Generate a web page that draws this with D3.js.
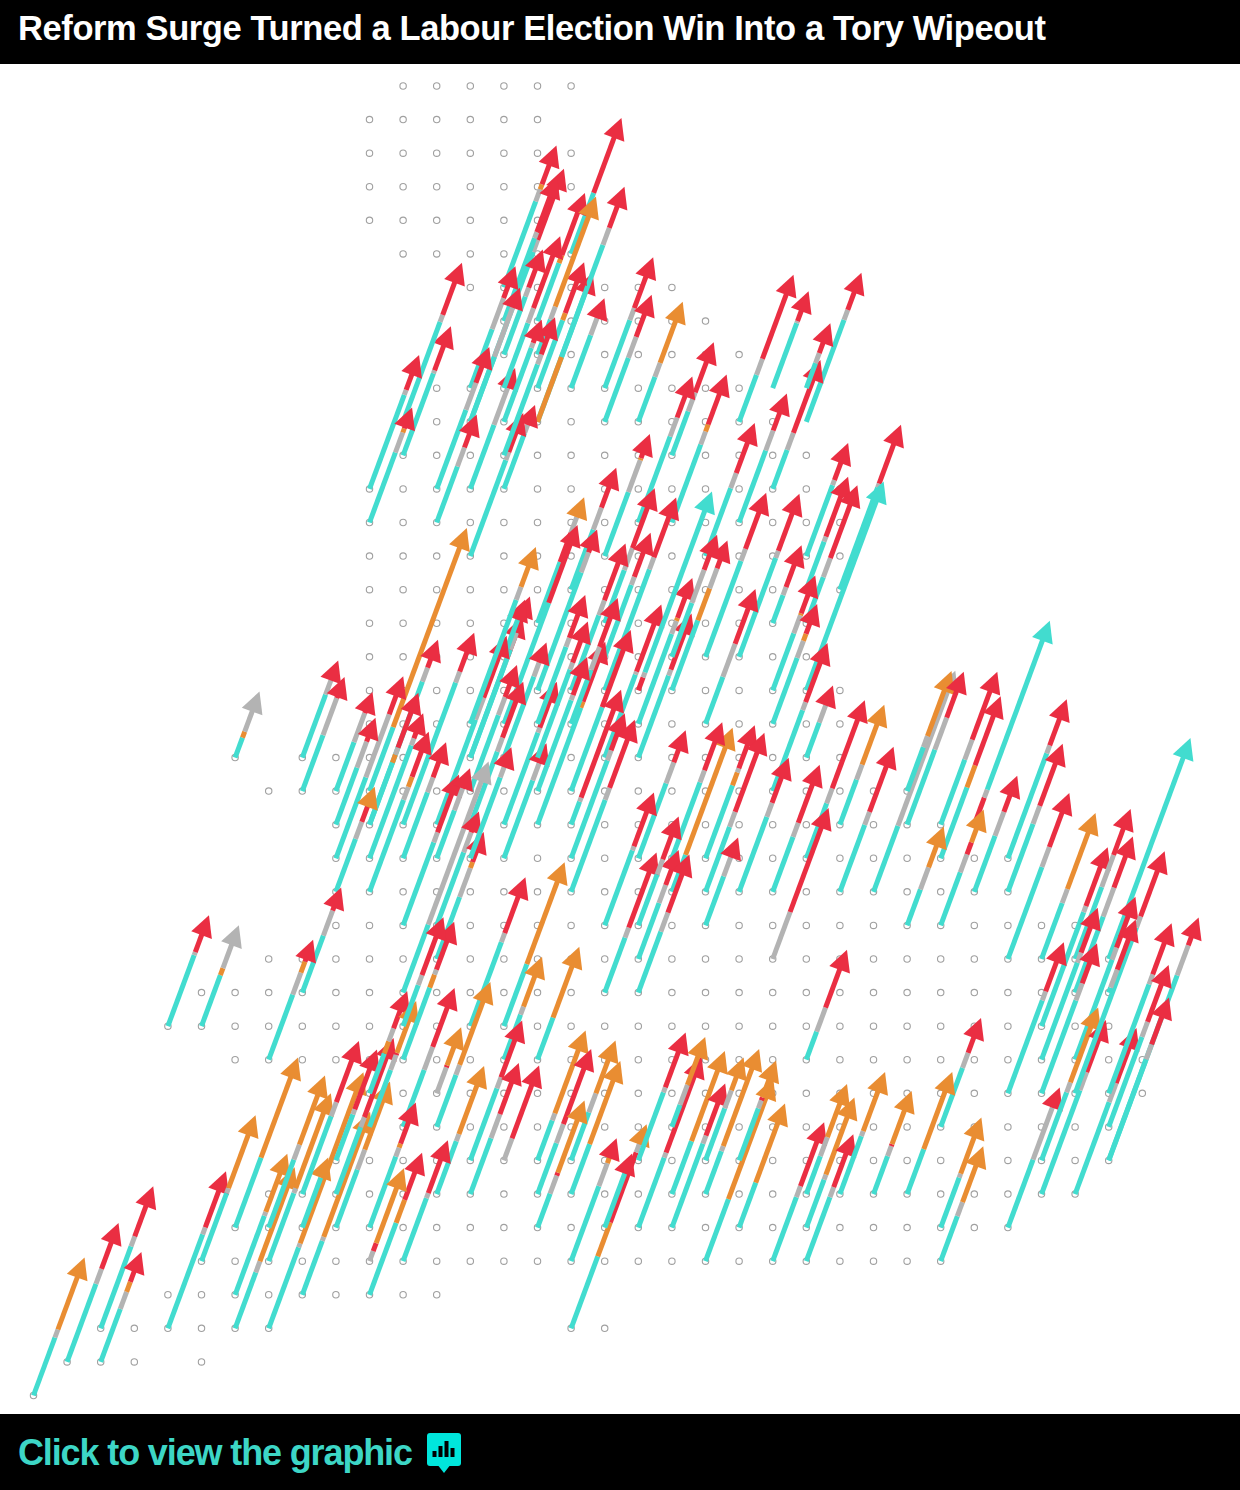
<!DOCTYPE html>
<html>
<head>
<meta charset="utf-8">
<script src="https://cdn.jsdelivr.net/npm/d3@7"></script>
<style>
  html, body { margin: 0; padding: 0; background: #fff; }
  svg { display: block; }
</style>
</head>
<body>
<div id="chart"></div>
<script>
const width = 1240;
const height = 1490;

const title = "Reform Surge Turned a Labour Election Win Into a Tory Wipeout";
const footer = "Click to view the graphic";

// hexagon grid: [row, first column, last column]
const gridRuns = [
  [0, 11, 16], [1, 10, 15], [2, 10, 16], [3, 10, 16], [4, 10, 15], [5, 11, 16],
  [6, 13, 19], [7, 14, 20], [8, 14, 21], [9, 12, 21], [10, 11, 22], [11, 11, 23],
  [12, 10, 24], [13, 10, 24], [14, 10, 24], [15, 10, 24], [16, 10, 23], [17, 10, 23],
  [18, 10, 24], [19, 10, 24], [20, 6, 6], [20, 8, 24], [21, 7, 26], [22, 9, 27],
  [23, 9, 29], [24, 9, 29], [25, 9, 31], [26, 7, 32], [27, 5, 32], [28, 4, 32],
  [29, 6, 33], [30, 10, 33], [31, 10, 32], [32, 9, 32], [33, 7, 31], [34, 6, 29],
  [35, 5, 27], [36, 4, 12], [37, 2, 7], [37, 16, 17], [38, 1, 3], [38, 5, 5], [39, 0, 0]
];

// seats: [column, row, party order, points per party]
// t reform, g other, o lib dem, r labour
const scotlandSeats = [
  [13, 10, "tgr", [170, 12, 71]], [16, 5, "tr", [61, 75]], [15, 10, "tgr", [125, 8, 16]],
  [15, 10, "otgr", [65, 112, 17, 41]], [14, 6, "tgor", [86, 12, 5, 39]], [14, 7, "tgr", [83, 6, 55]],
  [15, 7, "tor", [58, 8, 62]], [14, 8, "tgr", [58, 9, 38]], [13, 9, "tgr", [59, 31, 32]],
  [13, 10, "tgor", [65, 50, 2, 17]], [16, 9, "tgr", [53, 17, 20]], [17, 9, "tgr", [68, 12, 51]],
  [17, 10, "tgr", [64, 21, 42]], [18, 10, "tgo", [45, 14, 61]], [21, 10, "tgr", [47, 16, 84]],
  [11, 11, "tgr", [82, 3, 44]], [11, 10, "tgr", [100, 7, 52]], [10, 12, "tgr", [94, 5, 35]],
  [10, 13, "tgor", [70, 20, 4, 21]], [12, 12, "tgr", [79, 27, 36]], [12, 13, "tgr", [56, 19, 33]],
  [13, 12, "tgr", [64, 37, 20]], [14, 12, "tgr", [56, 8, 20]], [13, 14, "tgr", [96, 8, 39]],
  [15, 9, "tor", [68, 7, 51]], [15, 8, "tgo", [35, 13, 110]], [14, 11, "tgr", [91, 10, 37]],
  [14, 9, "tgr", [65, 15, 72]], [14, 10, "tgr", [74, 5, 23]], [19, 11, "tgr", [44, 19, 50]],
  [18, 13, "tgr", [86, 19, 41]], [19, 13, "tgor", [78, 13, 7, 50]], [22, 9, "tgr", [65, 2, 30]],
  [23, 10, "tgr", [102, 10, 37]], [21, 13, "tgr", [72, 20, 37]], [20, 14, "tgr", [68, 15, 50]],
  [22, 12, "tgr", [39, 17, 73]], [23, 9, "tgr", [25, 10, 30]]
];

const northSeats = [
  [24, 15, "tgr", [102, 4, 59]], [23, 18, "t", [209]], [22, 21, "tgr", [81, 8, 59]],
  [23, 14, "tgr", [71, 5, 37]], [23, 15, "tgr", [48, 5, 60]], [23, 16, "tgr", [46, 19, 73]],
  [20, 17, "tgr", [96, 12, 56]], [21, 17, "tgr", [99, 7, 57]], [20, 19, "tgr", [47, 33, 55]],
  [22, 16, "tgr", [28, 8, 42]], [22, 18, "tgor", [57, 18, 2, 38]], [22, 19, "tgor", [66, 17, 7, 30]],
  [17, 14, "tgor", [64, 32, 2, 24]], [17, 16, "tgr", [53, 22, 60]], [17, 18, "tgr", [121, 12, 60]],
  [17, 17, "tgr", [72, 8, 44]], [16, 18, "tgr", [75, 15, 57]], [17, 20, "tgr", [83, 3, 67]],
  [18, 20, "tgr", [82, 6, 56]], [18, 19, "tgor", [90, 13, 3, 40]], [18, 18, "rgt", [13, 5, 181]],
  [19, 18, "togr", [70, 32, 20, 28]], [19, 17, "tgr", [54, 33, 35]], [18, 23, "tgr", [75, 21, 32]],
  [19, 24, "to", [37, 127]], [19, 23, "tgr", [76, 12, 48]], [20, 23, "togr", [73, 13, 4, 43]],
  [20, 24, "tgr", [65, 15, 79]], [21, 24, "tgr", [75, 14, 45]], [22, 24, "tgr", [55, 14, 58]],
  [23, 20, "tgr", [35, 19, 18]], [23, 23, "tgr", [55, 15, 88]], [24, 22, "tgo", [45, 15, 60]],
  [24, 24, "tgr", [67, 13, 65]], [22, 26, "gr", [47, 104]], [17, 25, "tgr", [75, 4, 54]],
  [17, 27, "tgr", [55, 10, 75]], [18, 26, "tgr", [56, 18, 35]], [18, 27, "tgr", [61, 19, 58]],
  [18, 25, "tgr", [51, 15, 43]], [20, 25, "tgr", [49, 19, 20]]
];

const centralSeats = [
  [16, 15, "tgr", [60, 22, 40]], [15, 16, "trgo", [61, 29, 16, 20]], [14, 19, "tr", [121, 78]],
  [15, 18, "tgr", [118, 20, 23]], [16, 21, "tr", [84, 77]], [15, 22, "tor", [117, 6, 60]],
  [16, 19, "tgr", [54, 23, 49]], [16, 22, "tgr", [23, 4, 108]], [16, 23, "tgr", [98, 10, 37]],
  [16, 24, "tgr", [92, 12, 68]], [14, 20, "tgr", [81, 14, 20]], [13, 20, "tgr", [90, 10, 41]],
  [13, 20, "tgr", [108, 17, 36]], [14, 17, "tgr", [42, 5, 10]], [13, 21, "tgr", [76, 18, 32]],
  [13, 22, "tgr", [73, 14, 56]], [12, 22, "tgr", [105, 22, 62]], [14, 22, "tgr", [92, 5, 46]],
  [14, 23, "tgr", [78, 17, 20]], [15, 19, "tgr", [77, 9, 43]], [15, 20, "tgr", [88, 7, 41]],
  [15, 21, "tgr", [91, 5, 38]], [13, 19, "tgo", [124, 13, 40]], [10, 21, "to", [64, 199]],
  [10, 22, "tgr", [143, 14, 28]], [10, 22, "togr", [62, 8, 7, 55]], [11, 22, "tgr", [142, 11, 39]],
  [11, 23, "tgr", [66, 15, 35]], [10, 24, "tgor", [92, 13, 10, 45]], [10, 23, "tgr", [113, 7, 25]],
  [9, 23, "tgr", [81, 63, 38]], [9, 21, "tgr", [49, 29, 21]], [9, 22, "tgr", [57, 26, 24]],
  [9, 24, "tgro", [53, 17, 18, 17]], [6, 20, "tog", [20, 6, 40]], [8, 20, "tgr", [63, 15, 19]],
  [8, 21, "tgr", [56, 37, 21]], [8, 27, "tgr", [57, 25, 23]], [7, 29, "tgor", [65, 22, 11, 22]],
  [4, 28, "tgr", [71, 3, 37]], [5, 28, "tog", [51, 7, 43]], [11, 25, "tgr", [83, 10, 58]],
  [12, 23, "tgr", [48, 22, 20]], [11, 27, "tg", [68, 163]], [12, 25, "tgr", [73, 20, 21]],
  [12, 26, "tgor", [62, 29, 6, 30]], [13, 23, "tgr", [81, 14, 16]]
];

const eastSeats = [
  [25, 24, "tg", [66, 155]], [26, 21, "tgo", [44, 11, 65]], [26, 22, "tgr", [75, 32, 46]],
  [27, 22, "tgr", [65, 20, 68]], [27, 23, "tor", [71, 22, 69]], [28, 22, "rgt", [27, 8, 169]],
  [26, 25, "tgo", [36, 22, 41]], [27, 25, "tgro", [53, 18, 12, 33]], [28, 24, "tgr", [56, 24, 36]],
  [29, 23, "tgr", [105, 8, 46]], [29, 24, "tgr", [68, 18, 62]], [29, 26, "tgr", [92, 20, 54]],
  [32, 26, "t", [221]], [31, 29, "tgr", [100, 12, 51]], [30, 26, "tgo", [56, 14, 76]],
  [30, 28, "tgr", [114, 6, 59]], [31, 26, "tgr", [72, 32, 46]], [31, 27, "tgr", [76, 29, 51]],
  [30, 29, "tgr", [97, 10, 45]], [30, 30, "tgr", [93, 17, 40]], [29, 30, "tgr", [93, 9, 49]],
  [29, 34, "tgr", [68, 52, 20]], [30, 32, "tgo", [68, 10, 75]], [31, 33, "tgr", [92, 19, 55]],
  [30, 33, "tgr", [104, 18, 52]], [32, 32, "tgr", [185, 30, 28]], [32, 30, "tgr", [109, 10, 51]],
  [32, 31, "tgr", [90, 15, 57]], [32, 32, "tgr", [101, 15, 47]], [31, 30, "tgr", [166, 11, 65]],
  [32, 27, "tgr", [5, 18, 50]]
];

const southEastSeats = [
  [23, 29, "tgr", [28, 24, 58]], [27, 31, "tgr", [59, 15, 35]], [22, 35, "tgr", [64, 11, 64]],
  [23, 34, "tgo", [48, 5, 77]], [23, 35, "tgr", [64, 10, 53]], [23, 33, "tgo", [38, 19, 53]],
  [24, 33, "tgo", [58, 5, 59]], [25, 33, "tgro", [38, 10, 2, 53]], [26, 33, "to", [45, 77]],
  [27, 34, "tgo", [50, 4, 56]], [27, 35, "tgo", [45, 14, 56]]
];

const southSeats = [
  [13, 28, "tgr", [84, 9, 56]], [14, 28, "to", [62, 102]], [14, 29, "tgo", [45, 8, 50]],
  [15, 29, "to", [42, 71]], [12, 31, "tgo", [52, 10, 83]], [11, 31, "tgr", [57, 23, 59]],
  [12, 30, "gro", [26, 2, 38]], [13, 32, "tgr", [72, 11, 57]], [13, 33, "tgr", [56, 24, 51]],
  [14, 32, "gr", [22, 73]], [12, 33, "tgo", [53, 7, 68]], [15, 32, "tgo", [40, 7, 83]],
  [15, 33, "tgr", [51, 19, 75]], [16, 32, "tgo", [48, 19, 53]], [16, 33, "to", [50, 83]],
  [15, 34, "tgro", [34, 18, 3, 72]], [16, 35, "tgor", [75, 23, 7, 18]],
  [16, 37, "torgo", [72, 34, 70, 10, 18]], [17, 34, "tr", [55, 19]], [18, 32, "tgr", [68, 5, 55]],
  [18, 34, "tgr", [70, 5, 96]], [19, 33, "to", [53, 90]], [19, 31, "tgo", [22, 20, 48]],
  [19, 34, "tgr", [84, 8, 52]], [20, 32, "tgo", [52, 18, 33]], [20, 33, "tgo", [43, 5, 97]],
  [20, 35, "to", [62, 121]], [21, 32, "tgro", [52, 8, 3, 37]], [21, 34, "to", [45, 79]]
];

const southWestSeats = [
  [0, 39, "tgo", [58, 8, 72]], [1, 38, "tgr", [78, 15, 46]], [2, 37, "tgr", [82, 10, 50]],
  [2, 38, "tgor", [53, 17, 10, 30]], [4, 37, "tgr", [94, 7, 56]], [5, 35, "tgo", [68, 5, 73]],
  [6, 34, "to", [70, 100]], [6, 36, "tgo", [79, 4, 58]], [6, 37, "tgo", [56, 11, 94]],
  [7, 34, "tgo", [68, 15, 69]], [7, 35, "tgo", [68, 5, 95]], [7, 37, "tgo", [81, 4, 171]],
  [8, 36, "tgo", [54, 4, 125]], [9, 34, "tgo", [58, 20, 68]], [8, 34, "tgo", [50, 10, 10]],
  [9, 32, "tgr", [46, 5, 60]], [8, 33, "tgr", [78, 14, 61]], [9, 33, "tgr", [67, 10, 79]],
  [10, 30, "togr", [40, 12, 13, 37]], [10, 31, "tgro", [57, 15, 2, 52]],
  [11, 29, "togr", [72, 13, 5, 48]], [11, 28, "tgr", [41, 10, 58]], [10, 34, "tgor", [71, 9, 4, 41]],
  [10, 36, "tor", [72, 23, 47]], [11, 35, "tgr", [63, 5, 53]], [10, 35, "gro", [10, 8, 75]]
];

const partyColor = d3.scaleOrdinal()
  .domain(["t", "g", "o", "r"])
  .range(["#42dccf", "#b3b3b3", "#e98d32", "#ea2e42"]);

const allSeats = [scotlandSeats, northSeats, centralSeats, eastSeats, southEastSeats, southSeats, southWestSeats];

const scale_X = d3.scaleLinear().domain([0, 34]).range([33.5, 33.5 + 34 * 33.6]);
const scale_Y = d3.scaleLinear().domain([0, 39]).range([86, 1395.5]);
// one point of change runs up one pixel, leaning right
const scale_Rise = d3.scaleLinear().domain([0, 100]).range([0, 100]);
const lean = 0.37;

const svg = d3
  .select("#chart")
  .append("svg")
  .attr("width", width)
  .attr("height", height);

svg.append("rect").attr("width", width).attr("height", height).attr("fill", "#fff");

// grid dots
const dots = gridRuns.flatMap(([row, first, last]) =>
  d3.range(first, last + 1).map((col) => [col, row])
);
svg
  .append("g")
  .selectAll("circle")
  .data(dots)
  .enter()
  .append("circle")
  .attr("cx", (d) => scale_X(d[0]))
  .attr("cy", (d) => scale_Y(d[1]))
  .attr("r", 3.2)
  .attr("fill", "#fff")
  .attr("stroke", "#a0a0a0")
  .attr("stroke-width", 1.1);

// arrows
const headLength = 20;
const headHalf = 11;
const norm = Math.sqrt(1 + lean * lean);
const arrows = svg.append("g");

allSeats.flat().forEach(([col, row, order, points]) => {
  const x0 = scale_X(col);
  const y0 = scale_Y(row);
  const total = scale_Rise(d3.sum(points));
  const g = arrows.append("g");
  let rise = 0;
  points.forEach((p, i) => {
    const from = rise;
    rise += scale_Rise(p);
    const last = i === points.length - 1;
    const to = last ? total - headLength + 2 : Math.min(rise, total - 18);
    if (to <= from) return;
    g.append("line")
      .attr("x1", x0 + from * lean)
      .attr("y1", y0 - from)
      .attr("x2", x0 + to * lean)
      .attr("y2", y0 - to)
      .attr("stroke", partyColor(order[i]))
      .attr("stroke-width", 5);
  });
  // head takes the colour of the last party
  const tipX = x0 + total * lean;
  const tipY = y0 - total;
  const baseX = tipX - headLength * lean;
  const baseY = tipY + headLength;
  const px = (1 / norm) * headHalf;
  const py = (lean / norm) * headHalf;
  g.append("path")
    .attr("d", d3.line()([
      [tipX, tipY],
      [baseX - px, baseY - py],
      [baseX + px, baseY + py]
    ]) + "Z")
    .attr("fill", partyColor(order[order.length - 1]));
});

// header and footer bars
svg.append("rect").attr("width", width).attr("height", 64).attr("fill", "#000");
svg.append("rect").attr("y", 1414).attr("width", width).attr("height", 76).attr("fill", "#000");

svg
  .append("text")
  .text(title)
  .attr("x", 18)
  .attr("y", 40)
  .attr("fill", "#fff")
  .attr("font-family", "'Liberation Sans', Arial, sans-serif")
  .attr("font-weight", 700)
  .attr("font-size", 34.5)
  .attr("textLength", 1028)
  .attr("lengthAdjust", "spacing");

svg
  .append("text")
  .text(footer)
  .attr("x", 18)
  .attr("y", 1465)
  .attr("fill", "#3dd6c6")
  .attr("font-family", "'Liberation Sans', Arial, sans-serif")
  .attr("font-weight", 700)
  .attr("font-size", 36)
  .attr("textLength", 395)
  .attr("lengthAdjust", "spacing");

// chart icon in the footer
const icon = svg.append("g").attr("transform", "translate(427,1433)");
icon.append("rect").attr("width", 34).attr("height", 33).attr("rx", 3).attr("fill", "#00e6dc");
icon.append("path").attr("d", "M11.5,33L17,40L22.5,33Z").attr("fill", "#00e6dc");
const iconBars = [[5.5, 18, 6], [11.5, 13, 11], [17.5, 8, 16], [23.5, 15, 9]];
icon
  .selectAll("rect.bar")
  .data(iconBars)
  .enter()
  .append("rect")
  .attr("class", "bar")
  .attr("x", (d) => d[0])
  .attr("y", (d) => d[1])
  .attr("width", 4)
  .attr("height", (d) => d[2])
  .attr("fill", "#000");
</script>
</body>
</html>
